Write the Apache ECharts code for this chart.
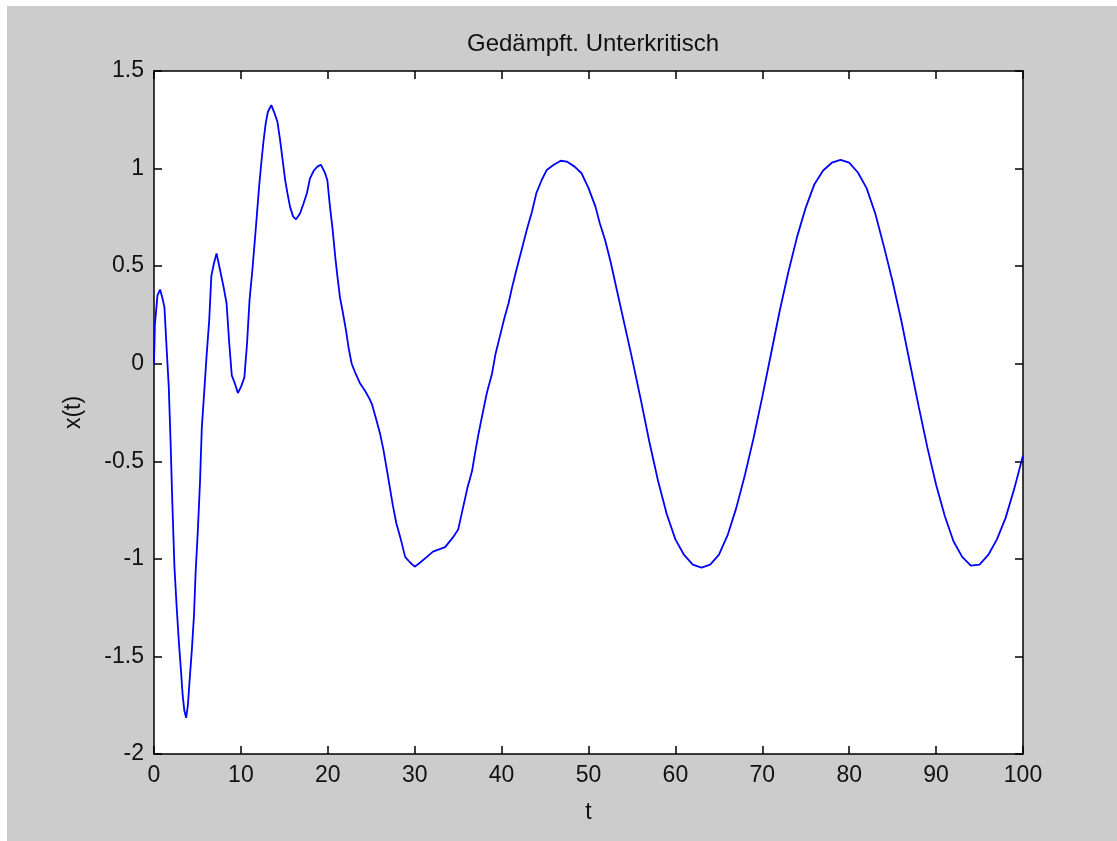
<!DOCTYPE html>
<html>
<head>
<meta charset="utf-8">
<script src="https://cdn.jsdelivr.net/npm/echarts@6/dist/echarts.min.js"></script>
<style>
  html, body { margin: 0; padding: 0; background: #ffffff; width: 1117px; height: 841px; overflow: hidden; }
  #chart { position: absolute; left: 7px; top: 6px; width: 1110px; height: 835px; }
</style>
</head>
<body>
<div id="chart"></div>
<script>
const titleText = 'Gedämpft. Unterkritisch';
const xName = 't';
const yName = 'x(t)';

const tValues = [0, 0.1, 0.4, 0.7, 1.0, 1.2, 1.45, 1.7, 1.9, 2.1, 2.35, 2.6, 2.85, 3.1, 3.3, 3.5, 3.7, 3.9, 4.1, 4.35,
  4.6, 4.8, 5.05, 5.3, 5.5, 5.8, 6.05, 6.35, 6.6, 6.9, 7.2, 7.6, 8.0, 8.35, 8.65, 8.95, 9.3, 9.65, 10.0, 10.4,
  10.7, 11.0, 11.3, 11.6, 11.85, 12.1, 12.35, 12.6, 12.85, 13.1, 13.5, 13.9, 14.2, 14.5, 14.8, 15.1, 15.35, 15.65, 16.0, 16.35,
  16.8, 17.2, 17.6, 17.95, 18.4, 18.8, 19.2, 19.7, 19.95, 20.25, 20.55, 20.85, 21.1, 21.4, 21.7, 22.1, 22.4, 22.75, 23.1, 23.7,
  24.3, 24.8, 25.1, 25.6, 26.0, 26.4, 26.8, 27.2, 27.5, 27.9, 28.4, 28.9, 29.5, 30.0, 30.6, 31.4, 32.1, 33.5, 34.4, 35.0,
  35.6, 36.1, 36.6, 36.9, 37.3, 37.7, 38.3, 38.9, 39.3, 39.8, 40.3, 40.8, 41.2, 41.7, 42.3, 42.9, 43.5, 44.0, 44.6, 45.2,
  46.0, 46.8, 47.5, 48.4, 49.2, 50.0, 50.8, 51.3, 51.9, 52.5, 53.0, 53.6, 54.2, 55, 56, 57, 58, 59, 60, 61,
  62, 63, 64, 65, 66, 67, 68, 69, 70, 71, 72, 73, 74, 75, 76, 77, 78, 79, 80, 81,
  82, 83, 84, 85, 86, 87, 88, 89, 90, 91, 92, 93, 94, 95, 96, 97, 98, 99, 100];

const xValues = [0.0, 0.2, 0.35, 0.38, 0.33, 0.29, 0.08, -0.12, -0.39, -0.70, -1.04, -1.24, -1.42, -1.57, -1.70, -1.78, -1.815, -1.75, -1.62, -1.47,
  -1.29, -1.06, -0.85, -0.60, -0.33, -0.13, 0.04, 0.22, 0.45, 0.515, 0.565, 0.48, 0.395, 0.31, 0.11, -0.06, -0.10, -0.15, -0.12, -0.07,
  0.10, 0.33, 0.47, 0.63, 0.77, 0.91, 1.03, 1.14, 1.23, 1.29, 1.325, 1.28, 1.24, 1.15, 1.045, 0.94, 0.875, 0.805, 0.755, 0.74,
  0.77, 0.82, 0.875, 0.95, 0.99, 1.01, 1.02, 0.975, 0.94, 0.805, 0.69, 0.55, 0.45, 0.34, 0.27, 0.17, 0.08, 0.0, -0.04, -0.10,
  -0.14, -0.18, -0.21, -0.29, -0.356, -0.44, -0.544, -0.65, -0.73, -0.82, -0.90, -0.99, -1.02, -1.04, -1.02, -0.99, -0.963, -0.94, -0.89, -0.85,
  -0.73, -0.63, -0.55, -0.47, -0.37, -0.28, -0.15, -0.05, 0.05, 0.14, 0.23, 0.31, 0.39, 0.48, 0.583, 0.686, 0.78, 0.874, 0.94, 0.993,
  1.02, 1.04, 1.036, 1.01, 0.976, 0.90, 0.805, 0.72, 0.635, 0.53, 0.43, 0.31, 0.19, 0.03, -0.18, -0.40, -0.60, -0.77, -0.90, -0.98,
  -1.03, -1.045, -1.03, -0.98, -0.88, -0.74, -0.57, -0.38, -0.17, 0.05, 0.27, 0.47, 0.65, 0.80, 0.92, 0.99, 1.03, 1.045, 1.03, 0.98,
  0.90, 0.77, 0.60, 0.42, 0.22, 0.0, -0.22, -0.43, -0.62, -0.78, -0.91, -0.99, -1.035, -1.03, -0.98, -0.90, -0.79, -0.64, -0.47];

const xTicks = { min: 0, max: 100, interval: 10 };
const yTicks = { min: -2, max: 1.5, interval: 0.5 };

const seriesData = tValues.map((t, i) => [t, xValues[i]]);

const FONT = "'Liberation Sans', Arial, sans-serif";
const axisCommon = {
  axisLine: { show: true, onZero: false, lineStyle: { color: '#000', width: 1.5 } },
  axisTick: { show: true, inside: true, length: 8, lineStyle: { color: '#000', width: 1.5 } },
  splitLine: { show: false }
};

const chart = echarts.init(document.getElementById('chart'), null, { renderer: 'canvas' });
chart.setOption({
  animation: false,
  backgroundColor: '#cccccc',
  title: {
    text: titleText,
    left: 581,
    top: 21,
    textAlign: 'center',
    textStyle: { fontFamily: FONT, fontSize: 24, fontWeight: 'normal', color: '#111' }
  },
  grid: { left: 147, top: 65, right: 94, bottom: 87, show: true, backgroundColor: '#ffffff', borderWidth: 0 },
  xAxis: [
    Object.assign({
      type: 'value', position: 'bottom', min: xTicks.min, max: xTicks.max, interval: xTicks.interval,
      name: xName, nameLocation: 'middle', nameGap: 47,
      nameTextStyle: { fontFamily: FONT, fontSize: 23, color: '#111' },
      axisLabel: { fontFamily: FONT, fontSize: 23, color: '#111', margin: 10 }
    }, axisCommon),
    Object.assign({
      type: 'value', position: 'top', min: xTicks.min, max: xTicks.max, interval: xTicks.interval,
      axisLabel: { show: false }
    }, axisCommon)
  ],
  yAxis: [
    Object.assign({
      type: 'value', position: 'left', min: yTicks.min, max: yTicks.max, interval: yTicks.interval,
      name: yName, nameLocation: 'middle', nameGap: 69, nameRotate: 90,
      nameTextStyle: { fontFamily: FONT, fontSize: 23, color: '#111' },
      axisLabel: { fontFamily: FONT, fontSize: 23, color: '#111', margin: 10 }
    }, axisCommon),
    Object.assign({
      type: 'value', position: 'right', min: yTicks.min, max: yTicks.max, interval: yTicks.interval,
      axisLabel: { show: false }
    }, axisCommon)
  ],
  series: [{
    type: 'line',
    xAxisIndex: 0,
    yAxisIndex: 0,
    data: seriesData,
    showSymbol: false,
    smooth: false,
    lineStyle: { color: '#0000ff', width: 1.8 },
    itemStyle: { color: '#0000ff' }
  }]
});
</script>
</body>
</html>
